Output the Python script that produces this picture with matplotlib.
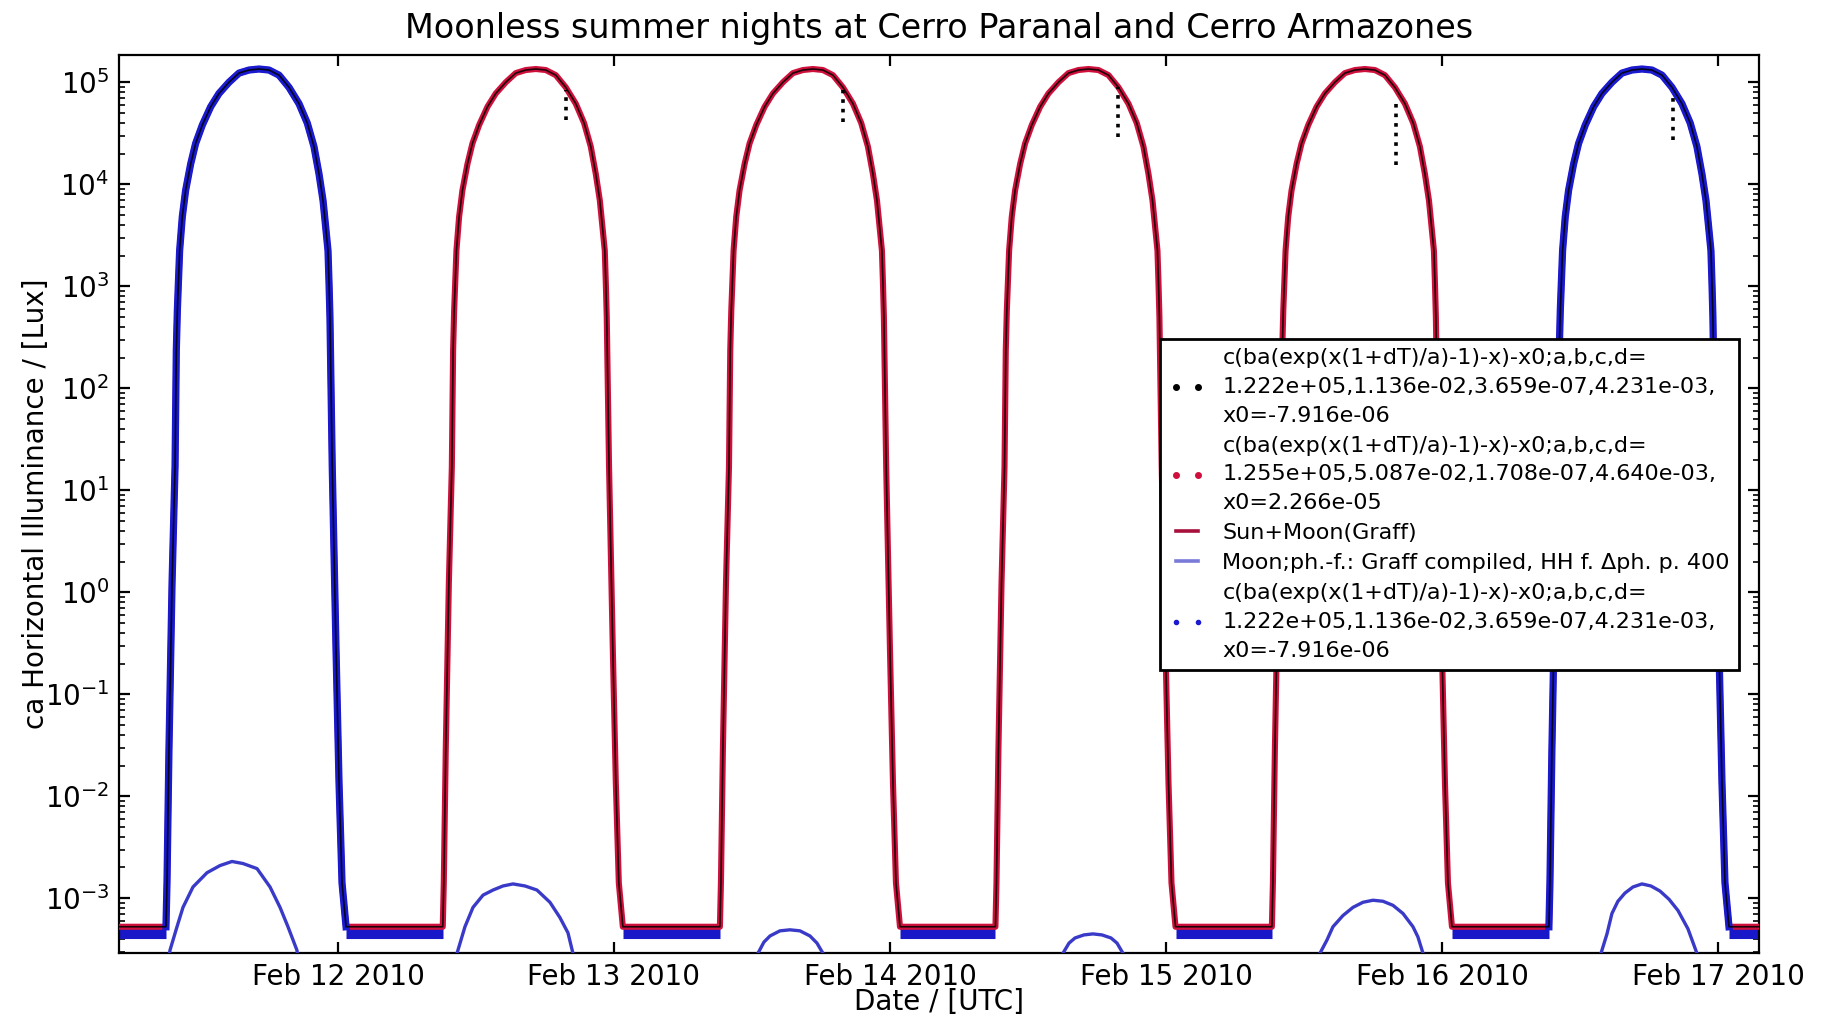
import numpy as np
import matplotlib
matplotlib.use("Agg")
import matplotlib.pyplot as plt
import matplotlib.dates as mdates
from matplotlib.lines import Line2D
from matplotlib.ticker import LogLocator

# daytime shape: hours from solar noon vs log10(lux)
profile_hours = [-7.66, -7.57, -7.40, -7.13, -6.87, -6.76, -6.67, -6.58, -6.47, -6.24,
                 -5.95, -5.51, -5.08, -4.50, -3.77, -3.05, -2.18, -1.31, -0.44, 0.43,
                 1.30, 2.17, 3.04, 3.91, 4.63, 5.21, 5.65, 6.00, 6.23, 6.43,
                 6.52, 6.60, 6.80, 7.13, 7.39, 7.65, 8.00]
profile_log_lux = [-3.28, -2.85, -1.55, 0.09, 1.23, 2.37, 2.76, 3.03, 3.35, 3.68,
                   3.94, 4.20, 4.40, 4.58, 4.76, 4.89, 5.00, 5.09, 5.12, 5.13,
                   5.12, 5.07, 4.95, 4.79, 4.60, 4.37, 4.10, 3.84, 3.58, 3.35,
                   3.03, 2.70, 1.23, -0.57, -1.87, -2.85, -3.28]

# solar noon of each day, hours after Feb 12 2010 00:00 UTC
noon_hours = [-7.3, 16.77, 40.87, 64.83, 88.87, 112.96]
blue_days = [0, 5]

night_floor_log = -3.28
night_blue_log = -3.34

# moonlight arcs (hours after Feb 12 00:00 UTC, log10 lux)
moon1_h = [-14.9, -14.61, -14.0, -13.48, -12.61, -11.39, -10.26, -9.22, -8.26, -7.04,
           -5.91, -5.04, -4.35, -3.57, -3.3]
moon1_v = [-3.75, -3.51, -3.28, -3.09, -2.89, -2.75, -2.68, -2.64, -2.66, -2.71,
           -2.89, -3.09, -3.28, -3.51, -3.75]
moon2_h = [10.1, 10.35, 11.04, 11.74, 12.61, 13.48, 14.35, 15.22, 16.26, 17.30,
           18.43, 19.30, 20.0, 20.43, 20.7]
moon2_v = [-3.75, -3.54, -3.28, -3.09, -2.97, -2.92, -2.88, -2.86, -2.88, -2.92,
           -3.04, -3.19, -3.34, -3.54, -3.75]
moon3_h = [36.3, 36.52, 37.04, 37.57, 38.43, 39.30, 40.17, 41.04, 41.65, 42.17, 42.4]
moon3_v = [-3.65, -3.54, -3.43, -3.37, -3.32, -3.31, -3.32, -3.37, -3.44, -3.54, -3.65]
moon4_h = [62.8, 63.04, 63.57, 64.09, 64.87, 65.65, 66.43, 67.22, 67.74, 68.26, 68.5]
moon4_v = [-3.65, -3.54, -3.44, -3.39, -3.36, -3.35, -3.36, -3.39, -3.44, -3.54, -3.65]
moon5_h = [85.1, 85.39, 86.0, 86.52, 87.39, 88.26, 89.13, 90.0, 90.87, 91.74,
           92.61, 93.48, 93.91, 94.35, 94.6]
moon5_v = [-3.75, -3.54, -3.41, -3.28, -3.17, -3.09, -3.04, -3.02, -3.03, -3.07,
           -3.15, -3.28, -3.38, -3.54, -3.75]
moon6_h = [109.5, 109.83, 110.35, 110.78, 111.30, 111.91, 112.61, 113.39, 114.17, 114.96,
           115.74, 116.52, 117.39, 118.17, 118.5]
moon6_v = [-3.75, -3.54, -3.35, -3.15, -3.03, -2.95, -2.89, -2.86, -2.88, -2.93,
           -3.01, -3.12, -3.30, -3.54, -3.75]

# afternoon drop-outs in the measurements
dip_hours = [19.83, 43.91, 67.83, 92.0, 116.1]
dip_top_log = [4.92, 4.92, 4.95, 4.85, 4.88]
dip_low_log = [4.63, 4.61, 4.46, 4.19, 4.43]

fit1 = "c(ba(exp(x(1+dT)/a)-1)-x)-x0;a,b,c,d=\n1.222e+05,1.136e-02,3.659e-07,4.231e-03,\nx0=-7.916e-06"
fit2 = "c(ba(exp(x(1+dT)/a)-1)-x)-x0;a,b,c,d=\n1.255e+05,5.087e-02,1.708e-07,4.640e-03,\nx0=2.266e-05"
fit3 = fit1

t0 = np.datetime64("2010-02-12T00:00")


def to_time(hours):
    return t0 + (np.asarray(hours, dtype=float) * 3600).astype("timedelta64[s]")


x_left, x_right = -19.04, 123.57

fig = plt.figure(figsize=(9.115, 5.085), dpi=200)
ax = fig.add_axes([0.0653, 0.0629, 0.8996, 0.883])

# full model curve (all days joined through the nights)
all_h = [x_left]
all_v = [night_floor_log]
for n in noon_hours:
    all_h += [n + h for h in profile_hours]
    all_v += profile_log_lux
all_h.append(x_right)
all_v.append(night_floor_log)
all_h = np.array(all_h)
all_v = np.array(all_v)

# blue band of the night-time measurements
night_start = [x_left] + [n + profile_hours[-1] for n in noon_hours]
night_end = [n + profile_hours[0] for n in noon_hours] + [x_right]
for s, e in zip(night_start, night_end):
    ax.plot(to_time([s, e]), [10 ** night_blue_log] * 2, color="#1818c8",
            lw=4, solid_capstyle="butt", zorder=2)

red = "#d0103c"
ax.plot(to_time(all_h), 10 ** all_v, color=red, lw=2.2, zorder=3)

for d in blue_days:
    hh = [noon_hours[d] + h for h in profile_hours]
    ax.plot(to_time(hh), 10 ** np.array(profile_log_lux), color="#1a1ad0",
            lw=2.6, zorder=4)

ax.plot(to_time(all_h), 10 ** all_v, color="k", lw=0.6, alpha=0.85, zorder=5)
ax.vlines(to_time(dip_hours), 10 ** np.array(dip_low_log), 10 ** np.array(dip_top_log),
          colors="k", linestyles=":", lw=1.3, zorder=5)

moon_color = "#3a3ac8"
for mh, mv in [(moon1_h, moon1_v), (moon2_h, moon2_v), (moon3_h, moon3_v),
               (moon4_h, moon4_v), (moon5_h, moon5_v), (moon6_h, moon6_v)]:
    ax.plot(to_time(mh), 10 ** np.array(mv), color=moon_color, lw=1.2, zorder=3)

ax.set_yscale("log")
ax.set_ylim(2.9e-4, 1.85e5)
ax.set_xlim(to_time([x_left])[0], to_time([x_right])[0])
ax.yaxis.set_major_locator(LogLocator(base=10, numticks=20))
ax.yaxis.set_minor_locator(LogLocator(base=10, subs=np.arange(2, 10), numticks=20))
ax.xaxis.set_major_locator(mdates.DayLocator())
ax.xaxis.set_major_formatter(mdates.DateFormatter("%b %d %Y"))
ax.tick_params(which="both", direction="in", top=True, right=True, labelsize=10)
ax.tick_params(which="major", length=4)
ax.tick_params(which="minor", length=2)

ax.set_title("Moonless summer nights at Cerro Paranal and Cerro Armazones", fontsize=12)
ax.set_xlabel("Date / [UTC]", fontsize=10, labelpad=-1)
ax.set_ylabel("ca Horizontal Illuminance / [Lux]", fontsize=10, labelpad=-2)

h1 = Line2D([], [], ls="none", marker=".", color="k", ms=3)
h2 = Line2D([], [], ls="none", marker=".", color=red, ms=3)
h3 = Line2D([], [], color="#a8103c", lw=1.3)
h4 = Line2D([], [], color="#7a7ad8", lw=1.3)
h5 = Line2D([], [], ls="none", marker=".", color="#1a1ad0", ms=2)
leg = ax.legend([h1, h2, h3, h4, h5],
                [fit1, fit2, "Sun+Moon(Graff)", "Moon;ph.-f.: Graff compiled, HH f. \u0394ph. p. 400", fit3],
                loc="upper right", bbox_to_anchor=(0.9945, 0.696), fontsize=8,
                numpoints=2, fancybox=False, framealpha=1, edgecolor="k",
                handlelength=1.6, handletextpad=0.8, borderpad=0.4, labelspacing=0.45)
for txt in leg.get_texts():
    txt.set_linespacing(1.55)
leg.get_frame().set_linewidth(1.0)
leg.set_zorder(10)

fig.savefig("out.png", dpi=200)
